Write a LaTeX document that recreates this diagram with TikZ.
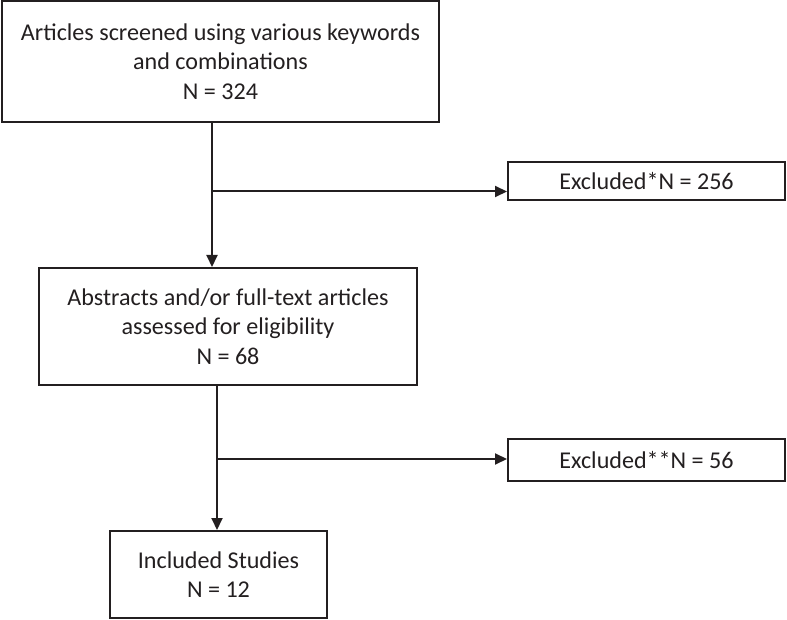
\documentclass[tikz,border=0pt]{standalone}
\usepackage{fontspec}
\setmainfont{Carlito}
\usetikzlibrary{arrows.meta}
\definecolor{ink}{HTML}{231F20}
\begin{document}
\begin{tikzpicture}[x=1pt,y=-1pt,
  box/.style={draw=ink,line width=2pt,rectangle,inner sep=0pt,align=center,
    text=ink,font=\fontsize{24.1}{29.5}\selectfont},
  arr/.style={draw=ink,line width=2pt,-{Triangle[length=12pt,width=11pt]}}]
\useasboundingbox (0,0) rectangle (787,620);
\node[box,minimum width=437pt,minimum height=121pt] (b1) at (220.5,61.5)
  {Articles screened using various keywords\\and combinations\\N = 324};
\node[box,minimum width=378pt,minimum height=117pt] (b2) at (228,326.5)
  {Abstracts and/or full-text articles\\assessed for eligibility\\N = 68};
\node[box,minimum width=217pt,minimum height=87pt] (b3) at (218.5,574.5)
  {Included Studies\\N = 12};
\node[box,minimum width=277pt,minimum height=38pt] (e1) at (646.5,181)
  {Excluded*N = 256};
\node[box,minimum width=277pt,minimum height=42pt] (e2) at (646.5,460)
  {Excluded**N = 56};
\coordinate (j1) at (212,191.5);
\coordinate (j2) at (217,459);
\draw[arr] (b1.south -| j1) -- (b2.north -| j1);
\draw[arr] (j1) -- (e1.west |- j1);
\draw[arr] (b2.south -| j2) -- (b3.north -| j2);
\draw[arr] (j2) -- (e2.west |- j2);
\end{tikzpicture}
\end{document}
